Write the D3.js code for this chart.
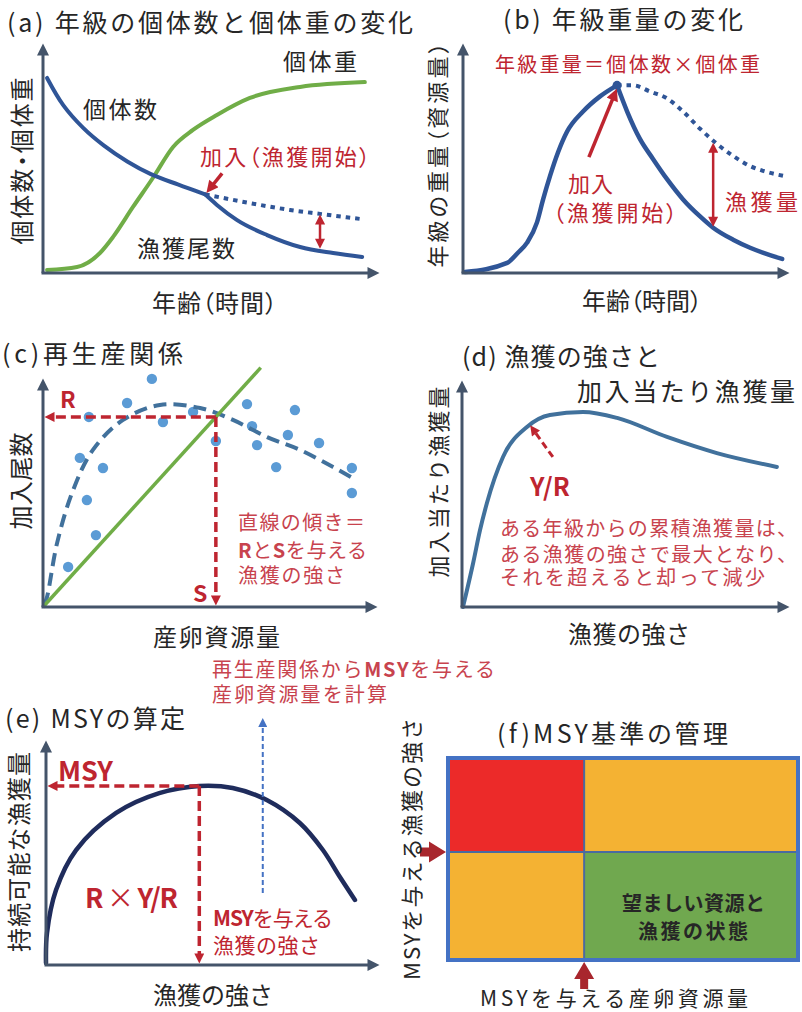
<!DOCTYPE html>
<html lang="ja">
<head>
<meta charset="utf-8">
<title>MSY管理の考え方</title>
<script src="https://cdn.jsdelivr.net/npm/d3@7"></script>
<style>
  html, body { margin: 0; padding: 0; background: #ffffff; }
  svg text { font-family: "Noto Sans CJK JP", "Noto Sans", sans-serif; }
  svg text.palt { font-feature-settings: "palt"; }
</style>
</head>
<body>
<svg id="chart" width="802" height="1012"></svg>
<script>
// ---------------------------------------------------------------
// Data (relative units, 0–100 on each axis of every panel)
// ---------------------------------------------------------------

// (a) numbers and individual weight of a cohort over age
const numbersBeforeRecruit = [[1.2,84.8],[6,73],[12,63],[18,55.5],[25,48.5],[32,43],[40,38.5],[48.1,34.2]];
const numbersFished        = [[48.1,34.2],[51.6,29.6],[57.6,23.0],[66.5,16.5],[76.3,11.3],[86.1,8.7],[94.7,7.0]];
const numbersUnfished      = [[48.1,34.2],[61.4,30.4],[73.3,27.4],[82.2,25.7],[94.1,23.5]];
const bodyWeight           = [[1.2,1.3],[10.1,2.6],[16.9,8.7],[20.8,15.7],[26.7,28.7],[32.6,41.3],[38.6,54.8],[44.5,62.2],[51.6,68.7],[61.4,76.1],[76.3,80.9],[95.5,83.0]];
const catchGapA            = [82.2, 25.7, 10.3];   // age, unfished, fished

// (b) cohort biomass over age
const biomassBeforeRecruit = [[0.6,0.4],[13.5,4.4],[16.8,8.8],[19.6,13.2],[22.6,21.9],[24.5,32.0],[26.6,42.1],[29.1,52.6],[31.8,61.4],[36.7,70.2],[41.9,76.8],[47.1,81.6]];
const biomassFished        = [[47.1,81.6],[50.2,70.2],[54.1,58.3],[58.1,49.6],[62.4,40.8],[67.3,32.0],[72.5,24.6],[76.5,19.7],[82.6,14.5],[87.8,11.0],[97.6,6.1]];
const biomassUnfished      = [[47.1,81.6],[52.0,81.6],[57.2,78.9],[62.4,75.9],[67.3,70.2],[72.5,62.7],[77.7,56.1],[82.6,50.9],[87.8,46.5],[93.0,43.9],[98.5,42.1]];
const catchGapB            = [76.5, 56.9, 19.9];
const recruitArrowB        = [[38.5,50.4],[47.1,80.3]];

// (c) stock–recruitment
const spawners = [32.5,25.1,13.7,35.8,44.8,51.6,60.9,62.4,63.9,75.2,73.1,82.4,69.6,92.2,92.2,11.0,17.9,13.1,15.8,7.5];
const recruits = [99.6,89.1,83.0,80.8,85.2,72.5,88.6,79.0,70.7,86.0,75.1,71.6,61.1,60.7,49.8,65.1,60.7,46.7,31.4,17.5];
const srCurve  = [[0.3,0.9],[1.2,4.4],[4.2,27.9],[9.0,51.1],[14.9,68.6],[23.9,81.7],[34.9,88.2],[46.9,86.9],[56.7,81.7],[66.9,74.2],[76.7,68.6],[86.6,61.1],[92.5,56.3]];
const replacementLine = [[0,0],[65,104.5]];
const equilibriumRS   = [51.6, 83.0];

// (d) yield per recruit against fishing intensity
const yprCurve = [[0.3,0],[3.4,19.4],[5.5,33.9],[7.6,45.8],[12.5,66.1],[19.8,79.3],[26.8,84.6],[36.9,85.9],[47.3,83.3],[62.5,74.9],[77.7,67.8],[96.0,61.7]];
const yprArrow = [[27.7,66.1],[20.7,80.2]];

// (e) sustainable yield against fishing intensity
const yieldCurve = [[0,0.9],[0.3,14.2],[3.0,33.3],[9.0,51.1],[21.0,67.6],[33.9,76.4],[45.9,79.6],[55.9,78.7],[66.1,73.3],[76.0,63.1],[82.9,51.1],[88.0,39.1],[92.5,28.9]];
const msyPoint   = [45.9, 79.6];
const toSpawnerArrow = [[64.9,32],[64.9,110]];

// (f) MSY-based management quadrants
const quadCols   = [[0,38.9],[38.9,100]];      // spawning stock ranges
const quadRows   = [[53.5,100],[0,53.5]];      // fishing intensity ranges
const quadColors = [["#ec2a29","#f4b233"],["#f4b233","#70a84f"]];

// ---------------------------------------------------------------
// Styles
// ---------------------------------------------------------------
const AXIS = "#44546a", BLUE = "#2f5597", GREEN = "#70ad47", RED = "#be2530",
      SOFTRED = "#c8434e", STEEL = "#41719c", DOT = "#5b9bd5", NAVY = "#1f2c5c",
      INK = "#262626";

const svg = d3.select("#chart");
const defs = svg.append("defs");

function marker(id, color, len, wid) {
  defs.append("marker")
    .attr("id", id).attr("viewBox", "0 0 10 10")
    .attr("refX", 5).attr("refY", 5)
    .attr("markerWidth", len).attr("markerHeight", wid)
    .attr("markerUnits", "userSpaceOnUse")
    .attr("orient", "auto-start-reverse")
    .append("path").attr("d", "M0,0L10,5L0,10Z").attr("fill", color);
  return { id, len };
}
const mAxis = marker("mAxis", AXIS, 13, 12);
const mRed  = marker("mRed", RED, 13, 12);
const mRedS = marker("mRedS", RED, 11, 10);
const mBlue = marker("mBlue", "#4472c4", 10, 9);

// line with arrowhead(s); the tip lands exactly on the end point
function arrow(g, x1, y1, x2, y2, o) {
  const m = o.marker, dx = x2 - x1, dy = y2 - y1, L = Math.hypot(dx, dy);
  const ux = dx / L, uy = dy / L, s = m.len / 2;
  const sx = o.both ? x1 + ux * s : x1, sy = o.both ? y1 + uy * s : y1;
  const l = g.append("line")
    .attr("x1", sx).attr("y1", sy).attr("x2", x2 - ux * s).attr("y2", y2 - uy * s)
    .attr("stroke", o.color).attr("stroke-width", o.width || 3)
    .attr("marker-end", `url(#${m.id})`);
  if (o.both) l.attr("marker-start", `url(#${m.id})`);
  if (o.dash) l.attr("stroke-dasharray", o.dash);
  return l;
}

function textEl(g, x, y, o) {
  const t = g.append("text")
    .attr("x", x).attr("y", y)
    .attr("text-anchor", o.anchor || "start")
    .attr("dominant-baseline", "central")
    .attr("font-size", o.size || 22)
    .attr("font-weight", o.weight || 400)
    .attr("fill", o.fill || INK);
  if (o.palt) t.attr("class", "palt");
  if (o.rotate) t.attr("transform", `rotate(-90 ${x} ${y})`);
  return t;
}
function addParts(el, parts) {
  if (typeof parts === "string") parts = [[parts]];
  parts.forEach(([s, w]) => el.append("tspan").text(s).attr("font-weight", w || null));
  return parts.map(p => p[0]).join("");
}

// single-line text with optional bold segments, fitted to a given width
function label(g, parts, x, y, o = {}) {
  const t = textEl(g, x, y, o);
  addParts(t, parts);
  if (o.width) t.attr("textLength", o.width).attr("lengthAdjust", "spacing");
  return t;
}

// multi-line text block: each line is [parts, x, y, width]
function block(g, lines, o = {}) {
  const t = textEl(g, lines[0][1], lines[0][2], o);
  lines.forEach(([parts, x, y, w]) => {
    const ln = t.append("tspan").attr("x", x).attr("y", y);
    const str = addParts(ln, parts);
    if (w) {
      const natural = ln.node().getComputedTextLength();
      const n = [...str].length;
      ln.attr("letter-spacing", (w - natural) / Math.max(1, n - 1));
    }
  });
  return t;
}

function panel(x0, x1, y0, y1) {
  const x = d3.scaleLinear().domain([0, 100]).range([x0, x1]);
  const y = d3.scaleLinear().domain([0, 100]).range([y0, y1]);
  const g = svg.append("g");
  return { g, x, y };
}

function axes(p) {
  const [x0, x1] = p.x.range(), [y0, y1] = p.y.range();
  arrow(p.g, x0, y0, x0, y1, { marker: mAxis, color: AXIS, width: 3 });
  arrow(p.g, x0 - 1.5, y0, x1, y0, { marker: mAxis, color: AXIS, width: 3 });
}

function curve(p, data, o) {
  const line = d3.line().x(d => p.x(d[0])).y(d => p.y(d[1])).curve(o.curve || d3.curveMonotoneX);
  const path = p.g.append("path").datum(data).attr("d", line)
    .attr("fill", "none").attr("stroke", o.color).attr("stroke-width", o.width || 4)
    .attr("stroke-linecap", o.cap || "round").attr("stroke-linejoin", "round");
  if (o.dash) path.attr("stroke-dasharray", o.dash);
  return path;
}

// ---------------------------------------------------------------
// (a) 年級の個体数と個体重の変化
// ---------------------------------------------------------------
{
  const p = panel(43, 380, 273, 43);
  curve(p, bodyWeight, { color: GREEN, width: 4 });
  curve(p, numbersUnfished, { color: BLUE, width: 4, dash: "4.5,5", cap: "butt" });
  curve(p, numbersBeforeRecruit, { color: BLUE, width: 4, curve: d3.curveCatmullRom });
  curve(p, numbersFished, { color: BLUE, width: 4 });
  axes(p);
  const [ca, cu, cf] = catchGapA;
  arrow(p.g, p.x(ca), p.y(cu), p.x(ca), p.y(cf), { marker: mRedS, color: RED, width: 2.5, both: true });
  const r = numbersFished[0];
  arrow(p.g, p.x(r[0]) + 17, p.y(r[1]) - 21, p.x(r[0]) + 1, p.y(r[1]) - 1, { marker: mRed, color: RED, width: 3.5 });

  label(svg, "(a) 年級の個体数と個体重の変化", 7, 21, { size: 25, width: 406 });
  label(p.g, "個体重", 283, 60, { size: 23, width: 74 });
  label(p.g, "個体数", 83, 108, { size: 23, width: 74 });
  label(p.g, "加入（漁獲開始）", 200, 155, { size: 22, width: 170, fill: RED, palt: true });
  label(p.g, "漁獲尾数", 137, 247, { size: 23, width: 98 });
  label(p.g, "年齢（時間）", 152, 301, { size: 24, width: 125, palt: true });
  label(p.g, "個体数・個体重", 20, 161, { size: 24, width: 167, anchor: "middle", rotate: true, palt: true });
}

// ---------------------------------------------------------------
// (b) 年級重量の変化
// ---------------------------------------------------------------
{
  const p = panel(463, 790, 273, 43);
  curve(p, biomassUnfished, { color: BLUE, width: 4, dash: "4.5,5", cap: "butt" });
  curve(p, biomassBeforeRecruit, { color: BLUE, width: 4.5 });
  curve(p, biomassFished, { color: BLUE, width: 4.5 });
  const pk = biomassFished[0];
  p.g.append("circle").attr("cx", p.x(pk[0])).attr("cy", p.y(pk[1])).attr("r", 4.5).attr("fill", BLUE);
  axes(p);
  const [ca, cu, cf] = catchGapB;
  arrow(p.g, p.x(ca), p.y(cu), p.x(ca), p.y(cf), { marker: mRedS, color: RED, width: 2.5, both: true });
  const [a0, a1] = recruitArrowB;
  arrow(p.g, p.x(a0[0]), p.y(a0[1]), p.x(a1[0]), p.y(a1[1]), { marker: mRed, color: RED, width: 3.5 });

  label(svg, "(b) 年級重量の変化", 503, 18, { size: 25, width: 240 });
  label(p.g, "年級重量＝個体数×個体重", 495, 63, { size: 20, width: 265, fill: RED });
  block(p.g, [["加入", 568, 182, 45], ["（漁獲開始）", 553, 211, 124]], { size: 22, fill: RED, palt: true });
  label(p.g, "漁獲量", 725, 200, { size: 22, width: 73, fill: RED });
  label(p.g, "年齢（時間）", 582, 299, { size: 24, width: 120, palt: true });
  label(p.g, "年級の重量（資源量）", 436, 155, { size: 22, width: 225, anchor: "middle", rotate: true, palt: true });
}

// ---------------------------------------------------------------
// (c) 再生産関係
// ---------------------------------------------------------------
{
  const p = panel(43, 378, 607, 378);
  p.g.selectAll("circle.sr").data(d3.zip(spawners, recruits)).join("circle")
    .attr("class", "sr").attr("cx", d => p.x(d[0])).attr("cy", d => p.y(d[1]))
    .attr("r", 5.2).attr("fill", DOT);
  curve(p, srCurve, { color: STEEL, width: 4, dash: "13,7", cap: "butt", curve: d3.curveCatmullRom });
  curve(p, replacementLine, { color: GREEN, width: 3.5, curve: d3.curveLinear, cap: "butt" });
  const [s, r] = equilibriumRS;
  arrow(p.g, p.x(s), p.y(r), p.x(0) + 1, p.y(r), { marker: mRedS, color: RED, width: 3.5, dash: "10,5" });
  arrow(p.g, p.x(s), p.y(r), p.x(s), p.y(0) - 1, { marker: mRedS, color: RED, width: 3.5, dash: "10,5" });
  axes(p);

  label(svg, "(c)再生産関係", 2, 352, { size: 25, width: 181, palt: true });
  label(p.g, "R", 60, 398, { size: 23, weight: 700, fill: RED });
  label(p.g, "S", 193, 592, { size: 23, weight: 700, fill: RED });
  block(p.g, [
    ["直線の傾き＝", 238, 521, 127],
    [[["R", 700], ["と"], ["S", 700], ["を与える"]], 238, 549, 129],
    ["漁獲の強さ", 238, 574, 107]
  ], { size: 20, fill: SOFTRED });
  label(p.g, "産卵資源量", 153, 635, { size: 24, width: 127 });
  label(p.g, "加入尾数", 19, 481, { size: 24, width: 97, anchor: "middle", rotate: true });
}

// ---------------------------------------------------------------
// (d) 漁獲の強さと加入当たり漁獲量
// ---------------------------------------------------------------
{
  const p = panel(462, 790, 607, 380);
  curve(p, yprCurve, { color: STEEL, width: 4 });
  axes(p);
  const [a0, a1] = yprArrow;
  arrow(p.g, p.x(a0[0]), p.y(a0[1]), p.x(a1[0]), p.y(a1[1]), { marker: mRedS, color: RED, width: 3, dash: "7,4" });

  block(svg, [["(d) 漁獲の強さと", 462, 355, 198], ["加入当たり漁獲量", 577, 390, 218]], { size: 25 });
  label(p.g, "Y/R", 530, 485, { size: 25, weight: 700, fill: RED });
  block(p.g, [
    ["ある年級からの累積漁獲量は、", 500, 527, 297],
    ["ある漁獲の強さで最大となり、", 500, 553, 297],
    ["それを超えると却って減少", 500, 576, 265]
  ], { size: 20, fill: SOFTRED });
  label(p.g, "漁獲の強さ", 568, 632, { size: 24, width: 122 });
  label(p.g, "加入当たり漁獲量", 437, 482, { size: 22, width: 191, anchor: "middle", rotate: true });
}

// ---------------------------------------------------------------
// (e) MSYの算定
// ---------------------------------------------------------------
{
  const p = panel(46, 380, 965, 740);
  curve(p, yieldCurve, { color: NAVY, width: 4.5, curve: d3.curveCatmullRom });
  const [f, m] = msyPoint;
  arrow(p.g, p.x(f), p.y(m), p.x(0) + 1, p.y(m), { marker: mRedS, color: RED, width: 3.5, dash: "10,5" });
  arrow(p.g, p.x(f), p.y(m), p.x(f), p.y(0) - 1, { marker: mRedS, color: RED, width: 3.5, dash: "10,5" });
  const [b0, b1] = toSpawnerArrow;
  arrow(p.g, p.x(b0[0]), p.y(b0[1]), p.x(b1[0]), p.y(b1[1]), { marker: mBlue, color: "#4472c4", width: 2, dash: "5,3" });
  axes(p);

  label(svg, "(e) MSYの算定", 5, 717, { size: 25, width: 180 });
  label(p.g, "MSY", 58, 769, { size: 27, weight: 700, width: 55, fill: RED });
  label(p.g, [["R", 700], [" × ", 400], ["Y/R", 700]], 85, 896, { size: 27, width: 93, fill: RED });
  block(p.g, [
    [[["MSY", 700], ["を与える"]], 213, 917, 120],
    ["漁獲の強さ", 213, 944, 107]
  ], { size: 21, fill: RED });
  block(svg, [
    [[["再生産関係から"], ["MSY", 700], ["を与える"]], 212, 668, 283],
    ["産卵資源量を計算", 212, 693, 175]
  ], { size: 20, fill: SOFTRED });
  label(p.g, "漁獲の強さ", 153, 993, { size: 24, width: 120 });
  label(p.g, "持続可能な漁獲量", 17, 852, { size: 24, width: 200, anchor: "middle", rotate: true });
}

// ---------------------------------------------------------------
// (f) MSY基準の管理
// ---------------------------------------------------------------
{
  const p = panel(448, 798, 960, 758);
  const cells = [];
  quadRows.forEach((r, i) => quadCols.forEach((c, j) => cells.push({ c, r, fill: quadColors[i][j] })));
  p.g.selectAll("rect.q").data(cells).join("rect").attr("class", "q")
    .attr("x", d => p.x(d.c[0])).attr("y", d => p.y(d.r[1]))
    .attr("width", d => p.x(d.c[1]) - p.x(d.c[0])).attr("height", d => p.y(d.r[0]) - p.y(d.r[1]))
    .attr("fill", d => d.fill);
  const xs = p.x(quadCols[1][0]), ys = p.y(quadRows[0][0]);
  p.g.append("line").attr("x1", xs).attr("x2", xs).attr("y1", p.y(100)).attr("y2", p.y(0)).attr("stroke", "#4a6aa0").attr("stroke-width", 2);
  p.g.append("line").attr("x1", p.x(0)).attr("x2", p.x(100)).attr("y1", ys).attr("y2", ys).attr("stroke", "#4a6aa0").attr("stroke-width", 2);
  p.g.append("rect").attr("x", p.x(0)).attr("y", p.y(100))
    .attr("width", p.x(100) - p.x(0)).attr("height", p.y(0) - p.y(100))
    .attr("fill", "none").attr("stroke", "#4472c4").attr("stroke-width", 4);

  // block arrows marking the MSY reference levels
  const AR = "#a8262d";
  const x0 = p.x(0) - 2, y0 = p.y(0) + 2;
  p.g.append("path").attr("fill", AR)
    .attr("d", `M${x0 - 26},${ys - 4.5}H${x0 - 17}V${ys - 10.5}L${x0},${ys}L${x0 - 17},${ys + 10.5}V${ys + 4.5}H${x0 - 26}Z`);
  p.g.append("path").attr("fill", AR)
    .attr("d", `M${xs - 4},${y0 + 27}V${y0 + 17}H${xs - 10}L${xs},${y0}L${xs + 10},${y0 + 17}H${xs + 4}V${y0 + 27}Z`);

  label(svg, "(f)MSY基準の管理", 497, 732, { size: 25, width: 231, palt: true });
  block(p.g, [["望ましい資源と", 622, 902, 143], ["漁獲の状態", 638, 930, 110]], { size: 20, weight: 700 });
  label(p.g, "MSYを与える産卵資源量", 480, 996.5, { size: 21, width: 268 });
  label(p.g, "MSYを与える漁獲の強さ", 410, 849, { size: 22, width: 262, anchor: "middle", rotate: true });
}
</script>
</body>
</html>
